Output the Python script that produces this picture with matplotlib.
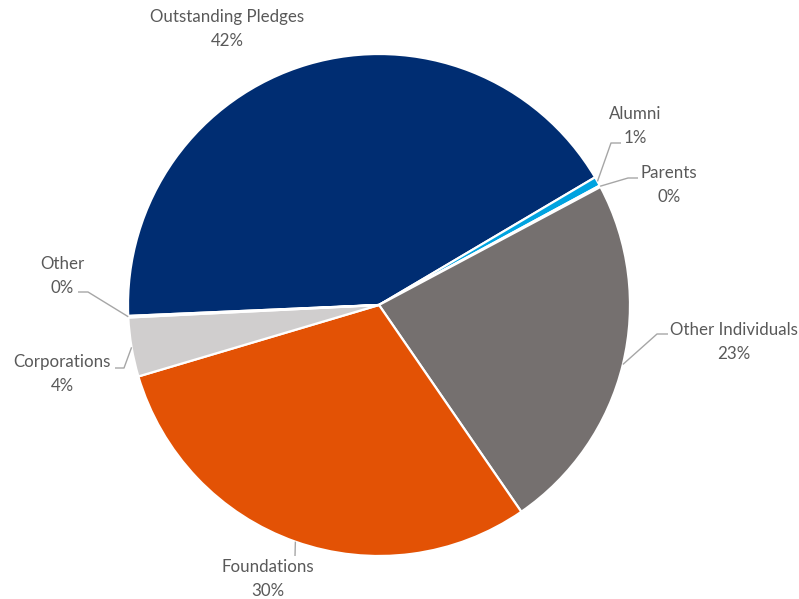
import numpy as np
import matplotlib
matplotlib.use("Agg")
import matplotlib.pyplot as plt

# data
labels = ["Outstanding Pledges", "Alumni", "Parents", "Other Individuals",
          "Foundations", "Corporations", "Other"]
values = [42.2, 0.6, 0.1, 23.2, 30.0, 3.8, 0.1]
pct_text = ["42%", "1%", "0%", "23%", "30%", "4%", "0%"]
colors = ["#002D72", "#00A3E0", "#FFFFFF", "#75706F", "#E35205", "#D0CECE", "#FFFFFF"]

# layout (pixels in a 799x599 picture)
W, H = 799, 599
cx, cy, R = 379, 305, 251
label_xy = [(227, 29), (635, 126), (669, 185), (734, 342),
            (268, 579), (62, 374), (62, 276)]
# leader line points after the wedge anchor (None = no leader)
leaders = [None,
           [(611, 143), (621, 143)],
           [(628, 178), (638, 178)],
           [(657, 334), (668, 334)],
           [(295, 556)],
           [(124, 368), (115, 368)],
           [(88, 292), (78, 292)]]


def px(p):
    return ((p[0] - cx) / R, (cy - p[1]) / R)


plt.rcParams['font.family'] = ['Lato', 'DejaVu Sans']

fig = plt.figure(figsize=(W / 100, H / 100), dpi=100)
ax = fig.add_axes([0, 0, 1, 1])

wedges, _ = ax.pie(values, colors=colors, startangle=182.5, counterclock=False,
                   radius=1, center=(0, 0), frame=True,
                   wedgeprops=dict(edgecolor='white', linewidth=1.6))
ax.set_xlim(-cx / R, (W - cx) / R)
ax.set_ylim((cy - H) / R, cy / R)
ax.set_aspect('equal')
ax.axis('off')

for i, w in enumerate(wedges):
    tx, ty = px(label_xy[i])
    ax.text(tx, ty, labels[i] + "\n" + pct_text[i], ha='center', va='center',
            fontsize=12.2, color='#595959', linespacing=1.55)
    if leaders[i] is not None:
        mid = np.deg2rad((w.theta1 + w.theta2) / 2)
        pts = [(np.cos(mid), np.sin(mid))] + [px(p) for p in leaders[i]]
        xs, ys = zip(*pts)
        ax.plot(xs, ys, color='#A6A6A6', lw=1.0, solid_capstyle='butt')

fig.savefig("out.png", dpi=100)
